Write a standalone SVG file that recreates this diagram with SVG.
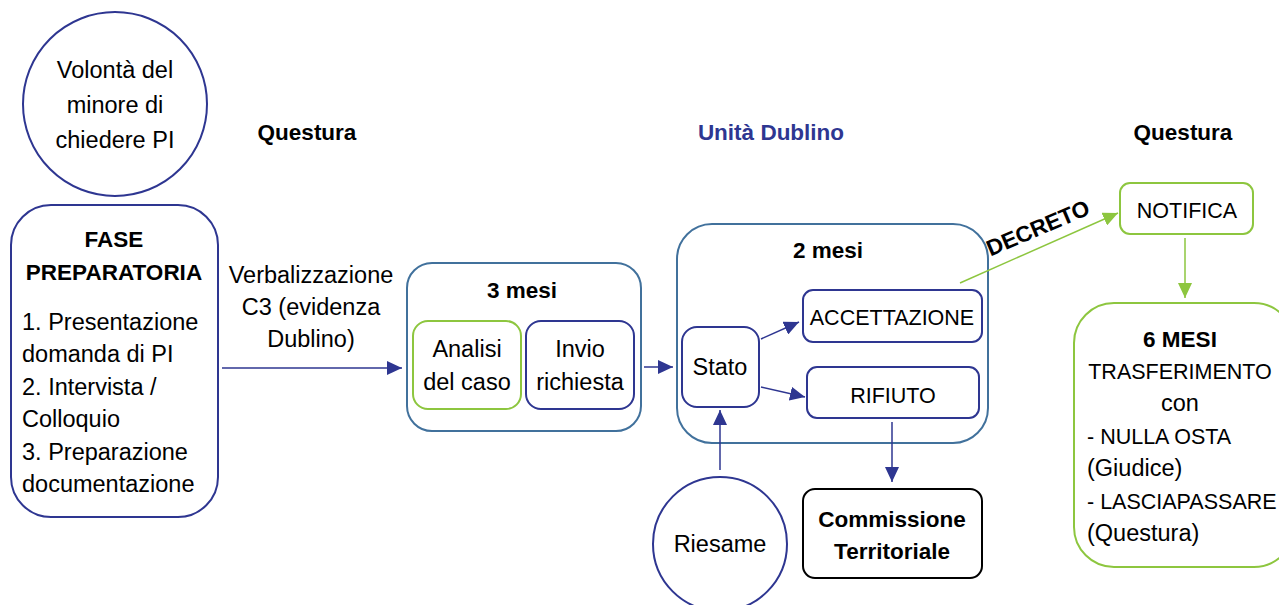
<svg xmlns="http://www.w3.org/2000/svg" width="1279" height="605" viewBox="0 0 1279 605">
<style>
text{font-family:"Liberation Sans",Arial,sans-serif;font-size:23.5px;fill:#000}
.k{font-size:21.5px}
.b{font-weight:bold;font-size:22.5px}
.c{text-anchor:middle}
.navy{fill:none;stroke:#2E3691;stroke-width:2}
.blue{fill:none;stroke:#41719C;stroke-width:2}
.green{fill:none;stroke:#8DC63F;stroke-width:2}
.blk{fill:none;stroke:#000;stroke-width:2}
.an{stroke:#2E3691;stroke-width:1.5;fill:none;marker-end:url(#ah)}
.ag{stroke:#8DC63F;stroke-width:1.5;fill:none;marker-end:url(#ahg)}
</style>
<defs>
<marker id="ah" markerUnits="userSpaceOnUse" markerWidth="16" markerHeight="14" refX="15" refY="7" orient="auto"><path d="M0,0 L15,7 L0,14 Z" fill="#2E3691"/></marker>
<marker id="ahg" markerUnits="userSpaceOnUse" markerWidth="16" markerHeight="14" refX="15" refY="7" orient="auto"><path d="M0,0 L15,7 L0,14 Z" fill="#8DC63F"/></marker>
</defs>
<rect width="1279" height="605" fill="#fff"/>

<text class="b c" x="307" y="140">Questura</text>
<text class="b c" x="771" y="140" style="fill:#2E3691">Unità Dublino</text>
<text class="b c" x="1183" y="140">Questura</text>

<g id="volonta">
<circle class="navy" cx="115" cy="104" r="92"/>
<text class="c" x="115" y="78">Volontà del</text>
<text class="c" x="115" y="113">minore di</text>
<text class="c" x="115" y="148">chiedere PI</text>
</g>

<g id="fase">
<rect class="navy" x="11" y="205" width="207" height="312" rx="40"/>
<text class="b c" x="114" y="247">FASE</text>
<text class="b c" x="114" y="280">PREPARATORIA</text>
<text x="22" y="330">1. Presentazione</text>
<text x="22" y="362">domanda di PI</text>
<text x="22" y="395">2. Intervista /</text>
<text x="22" y="427">Colloquio</text>
<text x="22" y="460">3. Preparazione</text>
<text x="22" y="492">documentazione</text>
</g>

<g id="verbalizzazione">
<text class="c" x="311" y="283">Verbalizzazione</text>
<text class="c" x="311" y="315">C3 (evidenza</text>
<text class="c" x="311" y="347">Dublino)</text>
</g>

<g id="tre-mesi">
<rect class="blue" x="407" y="263" width="234" height="168" rx="25"/>
<text class="b c" x="522" y="298">3 mesi</text>
</g>
<g id="analisi">
<rect class="green" x="413" y="321" width="108" height="88" rx="15"/>
<text class="c" x="467" y="357">Analisi</text>
<text class="c" x="467" y="390">del caso</text>
</g>
<g id="invio">
<rect class="navy" x="526" y="321" width="108" height="88" rx="15"/>
<text class="c" x="580" y="357">Invio</text>
<text class="c" x="580" y="390">richiesta</text>
</g>

<g id="due-mesi">
<rect class="blue" x="677" y="224" width="311" height="219" rx="35"/>
<text class="b c" x="828" y="258">2 mesi</text>
</g>
<g id="stato">
<rect class="navy" x="682" y="327" width="77" height="80" rx="15"/>
<text class="c" x="720" y="375">Stato</text>
</g>
<g id="accettazione">
<rect class="navy" x="803" y="290" width="179" height="52" rx="10"/>
<text class="c k" x="892" y="325">ACCETTAZIONE</text>
</g>
<g id="rifiuto">
<rect class="navy" x="807" y="367" width="172" height="51" rx="10"/>
<text class="c k" x="893" y="403">RIFIUTO</text>
</g>

<g id="riesame">
<circle class="navy" cx="720" cy="544" r="67"/>
<text class="c" x="720" y="552">Riesame</text>
</g>

<g id="commissione">
<rect class="blk" x="803" y="489" width="179" height="89" rx="12"/>
<text class="b c" x="892" y="527">Commissione</text>
<text class="b c" x="892" y="559">Territoriale</text>
</g>

<g id="notifica">
<rect class="green" x="1120" y="183" width="133" height="51" rx="10"/>
<text class="c k" x="1187" y="218">NOTIFICA</text>
</g>

<g id="sei-mesi">
<rect class="green" x="1074" y="303" width="220" height="264" rx="40"/>
<text class="b c" x="1180" y="347">6 MESI</text>
<text class="c k" x="1180" y="379">TRASFERIMENTO</text>
<text class="c" x="1180" y="411">con</text>
<text class="k" x="1087" y="444">- NULLA OSTA</text>
<text x="1087" y="476">(Giudice)</text>
<text class="k" x="1087" y="509">- LASCIAPASSARE</text>
<text x="1087" y="541">(Questura)</text>
</g>

<g id="connectors">
<line class="an" x1="222" y1="368" x2="402" y2="368"/>
<line class="an" x1="644" y1="367" x2="673" y2="367"/>
<line class="an" x1="761" y1="339" x2="799" y2="322"/>
<line class="an" x1="761" y1="387" x2="805" y2="397"/>
<line class="an" x1="720" y1="470" x2="720" y2="410"/>
<line class="an" x1="892" y1="422" x2="892" y2="482"/>
<line class="ag" x1="960" y1="283" x2="1118" y2="213"/>
<line class="ag" x1="1185" y1="238" x2="1185" y2="298"/>
<text class="b c" x="1041" y="235" transform="rotate(-23 1041 235)">DECRETO</text>
</g>
</svg>
